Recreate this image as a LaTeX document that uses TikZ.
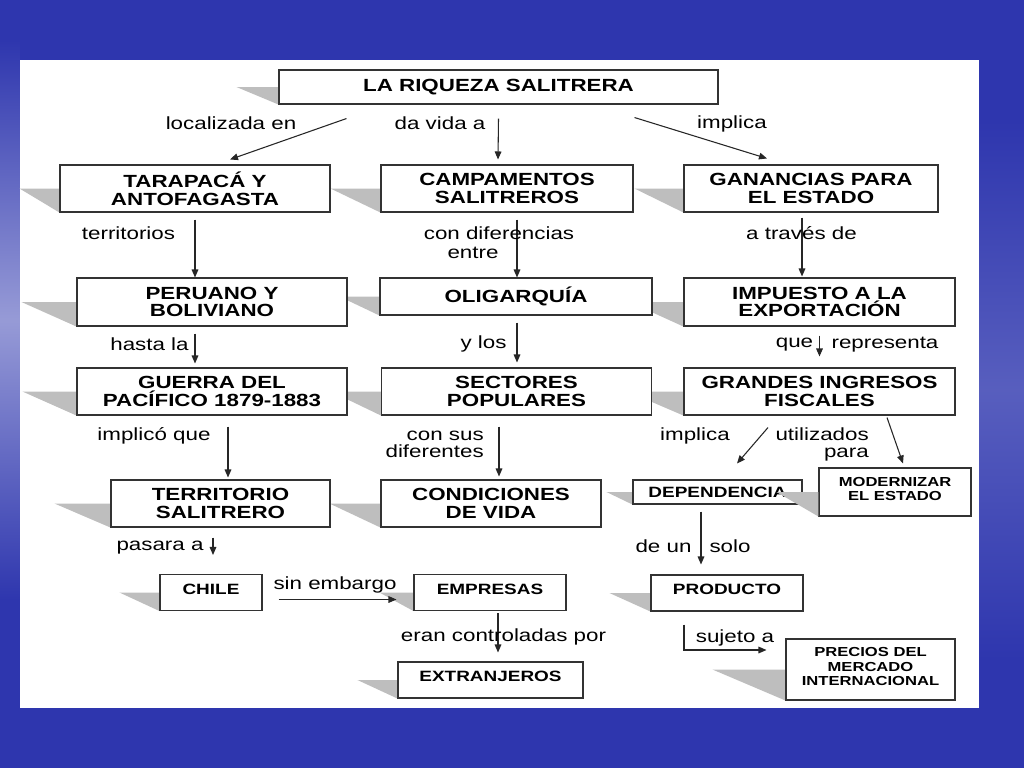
\documentclass[tikz,border=0pt]{standalone}
\usepackage{fontspec}
\setmainfont{Liberation Sans}[FakeStretch=1.27]
\usetikzlibrary{arrows.meta,calc,backgrounds}

\definecolor{fondo}{RGB}{46,54,174}
\definecolor{sombra}{RGB}{190,190,190}

\tikzset{
  caja/.style={draw=black!80, line width=0.8pt, fill=white, align=center, inner sep=0pt,
    font=\bfseries\fontsize{13.2}{13.4}\selectfont},
  cajita/.style={caja, font=\bfseries\fontsize{11.2}{11.2}\selectfont},
  cajachica/.style={caja, text depth=4.5pt, font=\bfseries\fontsize{9.8}{10.8}\selectfont},
  tam/.style 2 args={minimum width={#1*0.75pt}, minimum height={#2*0.75pt}},
  etiq/.style={inner sep=0pt, align=center, font=\fontsize{13.2}{12.8}\selectfont},
  flecha/.style={-{Triangle[length=6pt,width=5pt]}, line width=0.8pt, black!85},
}

\begin{document}
\begin{tikzpicture}[x=0.75pt,y=-0.75pt]
\useasboundingbox (0,0) rectangle (1024,768);

% cajas
\node[caja, tam={439}{34}] (riq) at (498.5,87) {LA RIQUEZA SALITRERA};
\node[caja, tam={270}{47}] (tara) at (195,188.5) {TARAPACÁ Y\\ANTOFAGASTA};
\node[caja, tam={252}{47}] (camp) at (507,188.5) {CAMPAMENTOS\\SALITREROS};
\node[caja, tam={254}{47}] (gan) at (811,188.5) {GANANCIAS PARA\\EL ESTADO};
\node[caja, tam={270}{48}] (peru) at (212,302) {PERUANO Y\\BOLIVIANO};
\node[caja, tam={272}{37}] (olig) at (516,296.5) {OLIGARQUÍA};
\node[caja, tam={271}{48}] (imp) at (819.5,302) {IMPUESTO A LA\\EXPORTACIÓN};
\node[caja, tam={270}{47}] (gue) at (212,391.5) {GUERRA DEL\\PACÍFICO 1879-1883};
\node[caja, tam={270}{47}] (sec) at (516.5,391.5) {SECTORES\\POPULARES};
\node[caja, tam={271}{47}] (gra) at (819.5,391.5) {GRANDES INGRESOS\\FISCALES};
\node[caja, tam={219}{47}] (terr) at (220.5,503.5) {TERRITORIO\\SALITRERO};
\node[caja, tam={220}{47}] (cond) at (491,503.5) {CONDICIONES\\DE VIDA};
\node[cajita, tam={169}{24}] (dep) at (717.5,492) {DEPENDENCIA};
\node[cajachica, tam={152}{48}] (mod) at (895,492) {MODERNIZAR\\EL ESTADO};
\node[cajita, text depth=5pt, tam={102}{36}] (chile) at (211,592.5) {CHILE};
\node[cajita, text depth=5pt, tam={152}{36}] (emp) at (490,592.5) {EMPRESAS};
\node[cajita, text depth=5pt, tam={152}{36}] (prod) at (727,593) {PRODUCTO};
\node[cajita, text depth=5pt, tam={185}{36}] (ext) at (490.5,680) {EXTRANJEROS};
\node[cajachica, tam={169}{61}] (prec) at (870.5,669.5) {PRECIOS DEL\\MERCADO\\INTERNACIONAL};

% fondo y sombras
\begin{pgfonlayer}{background}
\fill[fondo] (0,0) rectangle (1024,768);
\shade[top color=fondo, bottom color=fondo, middle color=fondo!50!white] (0,40) rectangle (20,600);
\shade[top color=fondo, bottom color=fondo, middle color=fondo!80!white] (979,120) rectangle (1024,660);
\fill[white] (20,60) rectangle (979,708);
\foreach \n/\w in {riq/42, tara/40, camp/50, gan/49, peru/55, olig/40, imp/54, gue/54,
                   sec/50, gra/56, terr/56, cond/51, dep/26, chile/40, emp/34, prod/41,
                   ext/40, prec/73}
  \fill[sombra] ($(\n.west)-(\w,0)$) -- (\n.west) -- (\n.south west) -- cycle;
\end{pgfonlayer}
\fill[sombra] ($(mod.west)-(42,0)$) -- (mod.west) -- (mod.south west) -- cycle;

% conectores
\draw[flecha] ($(riq.south west)+(68,14)$) -- ($(tara.north)+(35,-5)$);
\draw[flecha] ($(riq.south)+(0,14)$) -- ($(camp.north)+(-9,-5)$);
\draw[flecha] ($(riq.south east)+(-84,13)$) -- ($(gan.north)+(-44,-6)$);
\draw[flecha] ($(tara.south)+(0,7)$) -- (tara.south |- peru.north);
\draw[flecha] ($(peru.south)+(-17,7)$) -- ($(gue.north)+(-17,-4)$);
\draw[flecha] ($(gue.south)+(16,11)$) -- ($(terr.north)+(7.5,-2)$);
\draw[flecha] ($(terr.south)+(-7.5,10)$) -- ($(chile.north)+(2,-19)$);
\draw[flecha] ($(camp.south)+(10,7)$) -- ($(olig.north)+(1,0)$);
\draw[flecha] ($(olig.south)+(1,7)$) -- ($(sec.north)+(0.5,-5)$);
\draw[flecha] ($(sec.south)+(-17.5,11)$) -- ($(cond.north)+(8,-3)$);
\draw[flecha] ($(chile.east)+(16,7)$) -- ($(emp.west)+(-17,7)$);
\draw[flecha] ($(emp.south)+(8,2)$) -- ($(ext.north)+(7.5,-9)$);
\draw[flecha] ($(gan.south)+(-9,5)$) -- ($(imp.north)+(-17.5,-1)$);
\draw[flecha] ($(imp.south)+(0,9)$) -- ($(gra.north)+(0,-11)$);
\draw[flecha] ($(gra.south)+(-51.5,12)$) -- ($(dep.north)+(19.5,-16)$);
\draw[flecha] ($(gra.south)+(67.5,2)$) -- ($(mod.north)+(8,-4)$);
\draw[flecha] ($(dep.south)+(-16.5,7)$) -- ($(prod.north)+(-26,-10)$);
\draw[flecha] ($(prod.south)+(-43,13)$) |- ($(prec.west)+(-19,-19.5)$);

% etiquetas
\node[etiq] (localizada) at (231,123) {localizada en};
\node[etiq] (davida) at (440,123) {da vida a};
\node[etiq] (implica) at (732,124) {implica};
\node[etiq] (territorios) at (128.5,233) {territorios};
\node[etiq] (condif) at (499,233) {con diferencias};
\node[etiq] (entre) at (473,253) {entre};
\node[etiq] (atraves) at (801.5,233) {a través de};
\node[etiq] (hasta) at (149.5,344) {hasta la};
\node[etiq] (ylos) at (483.5,344) {y los};
\node[etiq] (que) at (794.5,345) {que};
\node[etiq] (representa) at (885,345) {representa};
\node[etiq] (implico) at (154,436) {implicó que};
\node[etiq, align=right, anchor=east] (consus) at (484,444.5) {con sus\\diferentes};
\node[etiq] (implica2) at (695,436) {implica};
\node[etiq, align=right, anchor=east] (utilizados) at (869,444) {utilizados\\para};
\node[etiq] (deun) at (663.5,546) {de un};
\node[etiq] (solo) at (730,546) {solo};
\node[etiq] (pasara) at (160,548) {pasara a};
\node[etiq] (sinembargo) at (335,585) {sin embargo};
\node[etiq] (eran) at (503.5,637) {eran controladas por};
\node[etiq] (sujeto) at (735,638) {sujeto a};

\end{tikzpicture}
\end{document}
